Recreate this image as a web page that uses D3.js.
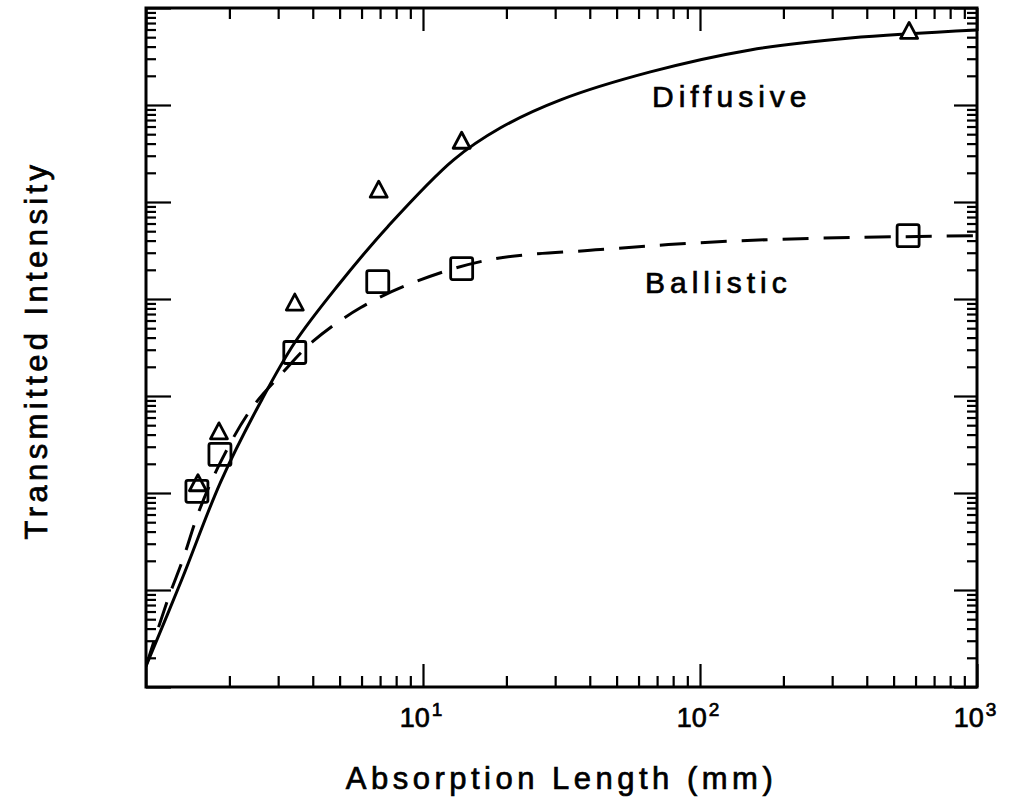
<!DOCTYPE html>
<html>
<head>
<meta charset="utf-8">
<script src="https://cdn.jsdelivr.net/npm/d3@7"></script>
<style>
  body { margin: 0; background: #fff; }
  svg { display: block; }
  text { font-family: "Liberation Sans", Arial, sans-serif; fill: #000; stroke: #000; stroke-width: 0.7px; }
</style>
</head>
<body>
<svg id="chart" width="1015" height="798"></svg>
<script>
// Measured points: absorption length (mm) vs transmitted intensity (arb. units)
const diffusiveLength    = [1.540, 1.834, 3.445, 6.92, 13.79, 568.7];
const diffusiveIntensity = [1.26e-5, 4.32e-5, 9.19e-4, 1.34e-2, 4.28e-2, 0.580];
const ballisticLength    = [1.527, 1.849, 3.445, 6.865, 13.79, 564];
const ballisticIntensity = [1.04e-5, 2.50e-5, 2.81e-4, 1.51e-3, 2.06e-3, 4.50e-3];

// Theory curves
const diffusiveFitLength    = [1.0, 1.348, 1.864, 2.598, 3.445, 4.923, 7.46, 12.9, 19.06, 31.4, 66.2, 151.9, 348.5, 1000];
const diffusiveFitIntensity = [1.64e-7, 1.29e-6, 1.32e-5, 8.79e-5, 3.56e-4, 1.37e-3, 5.57e-3, 2.72e-2, 5.82e-2, 0.113, 0.2194, 0.3695, 0.491, 0.5936];
const ballisticFitLength    = [1.0, 1.200, 1.360, 1.553, 1.864, 2.391, 3.119, 4.002, 5.963, 9.41, 17.54, 43.7, 100.3, 230, 1000];
const ballisticFitIntensity = [1.64e-7, 8.05e-7, 2.08e-6, 6.48e-6, 2.12e-5, 7.27e-5, 1.75e-4, 3.65e-4, 8.16e-4, 1.51e-3, 2.55e-3, 3.23e-3, 3.81e-3, 4.19e-3, 4.50e-3];

// Axis labelling
const xTickValues    = [10, 100, 1000];
const xTickExponents = ["1", "2", "3"];
const xTitle = "Absorption Length (mm)";
const yTitle = "Transmitted Intensity";
const curveNames = ["Diffusive", "Ballistic"];

(function () {
  const plotL = 146, plotR = 977, plotT = 8, plotB = 687;

  const svg = d3.select("#chart");

  const x = d3.scaleLog().domain([1, 1000]).range([plotL, plotR]);
  const y = d3.scaleLog().domain([1e-7, 1]).range([plotB, plotT]);

  const isDecade = v => Math.abs(Math.log10(v) - Math.round(Math.log10(v))) < 1e-9;

  const xMajor = x.ticks().filter(isDecade);
  const xMinor = x.ticks().filter(v => !isDecade(v));
  const yMajor = y.ticks().filter(isDecade);
  const yMinor = y.ticks().filter(v => !isDecade(v));

  function styleAxis(g) {
    g.select(".domain").remove();
    g.selectAll(".tick line").attr("stroke", "#000").attr("stroke-width", 2.2);
  }

  // Inward ticks on all four sides
  const axes = svg.append("g");
  axes.append("g").attr("transform", `translate(0,${plotB})`)
    .call(d3.axisTop(x).tickValues(xMajor).tickSize(23).tickFormat("")).call(styleAxis);
  axes.append("g").attr("transform", `translate(0,${plotB})`)
    .call(d3.axisTop(x).tickValues(xMinor).tickSize(11).tickFormat("")).call(styleAxis);
  axes.append("g").attr("transform", `translate(0,${plotT})`)
    .call(d3.axisBottom(x).tickValues(xMajor).tickSize(23).tickFormat("")).call(styleAxis);
  axes.append("g").attr("transform", `translate(0,${plotT})`)
    .call(d3.axisBottom(x).tickValues(xMinor).tickSize(11).tickFormat("")).call(styleAxis);
  axes.append("g").attr("transform", `translate(${plotL},0)`)
    .call(d3.axisRight(y).tickValues(yMajor).tickSize(25).tickFormat("")).call(styleAxis);
  axes.append("g").attr("transform", `translate(${plotL},0)`)
    .call(d3.axisRight(y).tickValues(yMinor).tickSize(10).tickFormat("")).call(styleAxis);
  axes.append("g").attr("transform", `translate(${plotR},0)`)
    .call(d3.axisLeft(y).tickValues(yMajor).tickSize(23).tickFormat("")).call(styleAxis);
  axes.append("g").attr("transform", `translate(${plotR},0)`)
    .call(d3.axisLeft(y).tickValues(yMinor).tickSize(10).tickFormat("")).call(styleAxis);

  // Frame
  svg.append("rect")
    .attr("x", plotL).attr("y", plotT)
    .attr("width", plotR - plotL).attr("height", plotB - plotT)
    .attr("fill", "none").attr("stroke", "#000").attr("stroke-width", 3);

  // Curves
  svg.append("clipPath").attr("id", "plot-clip")
    .append("rect").attr("x", plotL).attr("y", plotT)
    .attr("width", plotR - plotL).attr("height", plotB - plotT);

  const line = d3.line()
    .x(d => x(d[0])).y(d => y(d[1]))
    .curve(d3.curveCatmullRom.alpha(0.5));

  const diffusiveFit = diffusiveFitLength.map((v, i) => [v, diffusiveFitIntensity[i]]);
  const ballisticFit = ballisticFitLength.map((v, i) => [v, ballisticFitIntensity[i]]);

  const curves = svg.append("g").attr("clip-path", "url(#plot-clip)");
  curves.append("path").datum(diffusiveFit)
    .attr("d", line).attr("fill", "none")
    .attr("stroke", "#000").attr("stroke-width", 3);
  curves.append("path").datum(ballisticFit)
    .attr("d", line).attr("fill", "none")
    .attr("stroke", "#000").attr("stroke-width", 3)
    .attr("stroke-dasharray", "26,15");

  // Markers
  const diffusivePts = diffusiveLength.map((v, i) => [v, diffusiveIntensity[i]]);
  const ballisticPts = ballisticLength.map((v, i) => [v, ballisticIntensity[i]]);

  svg.append("g").selectAll("path").data(diffusivePts).join("path")
    .attr("transform", d => `translate(${x(d[0])},${y(d[1])})`)
    .attr("d", "M0,-8.5 L8.5,7.5 L-8.5,7.5 Z")
    .attr("fill", "#fff").attr("stroke", "#000")
    .attr("stroke-width", 2.8).attr("stroke-linejoin", "round");

  const sq = 22;
  svg.append("g").selectAll("rect").data(ballisticPts).join("rect")
    .attr("x", d => x(d[0]) - sq / 2).attr("y", d => y(d[1]) - sq / 2)
    .attr("width", sq).attr("height", sq).attr("rx", 2)
    .attr("fill", "none").attr("stroke", "#000").attr("stroke-width", 2.8);

  // Curve names
  svg.append("text").attr("x", 652).attr("y", 107)
    .attr("font-size", 30).attr("letter-spacing", 5).text(curveNames[0]);
  svg.append("text").attr("x", 645).attr("y", 293)
    .attr("font-size", 30).attr("letter-spacing", 5).text(curveNames[1]);

  // X tick labels with exponents
  const xl = svg.append("g").selectAll("text").data(xTickValues).join("text")
    .attr("x", d => x(d) - 2).attr("y", 727)
    .attr("font-size", 27).attr("text-anchor", "middle");
  xl.append("tspan").text("10");
  xl.append("tspan").attr("dy", -11).attr("dx", 2).attr("font-size", 19)
    .text((d, i) => xTickExponents[i]);

  // Axis titles
  svg.append("text").attr("x", (plotL + plotR) / 2).attr("y", 789)
    .attr("text-anchor", "middle").attr("font-size", 31).attr("letter-spacing", 4.5)
    .text(xTitle);
  svg.append("text").attr("transform", "translate(47,350) rotate(-90)")
    .attr("text-anchor", "middle").attr("font-size", 31).attr("letter-spacing", 4.4)
    .text(yTitle);
})();
</script>
</body>
</html>
